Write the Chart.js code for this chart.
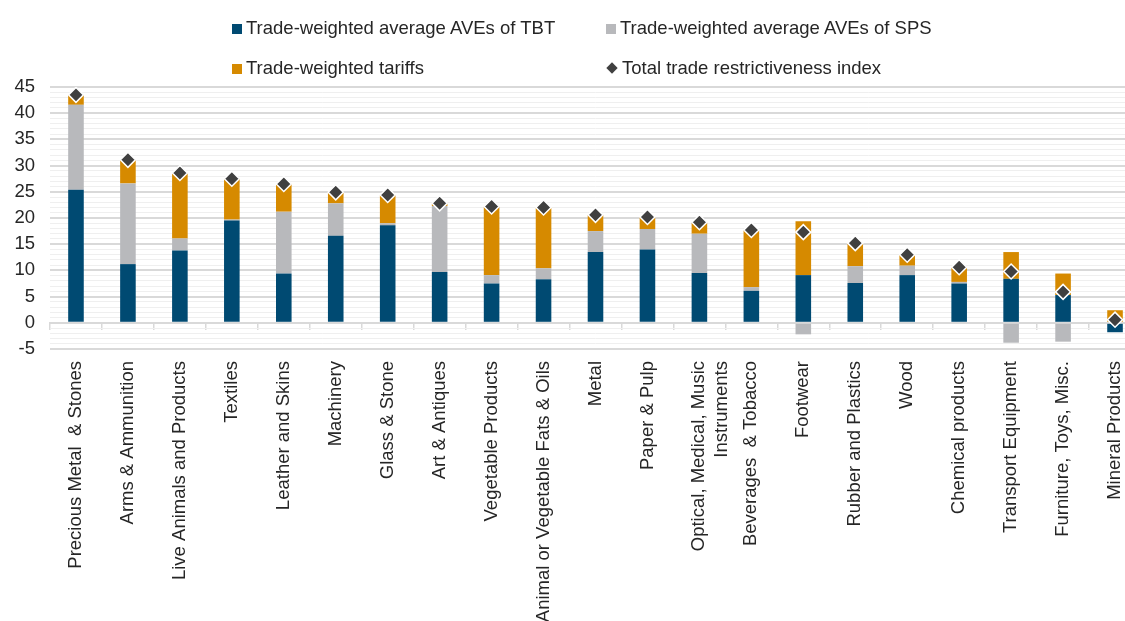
<!DOCTYPE html>
<html>
<head>
<meta charset="utf-8">
<script src="https://cdn.jsdelivr.net/npm/chart.js@4"></script>
<style>
    html, body { margin: 0; padding: 0; background: #fff; overflow: hidden; width: 1125px; height: 621px; }
    #wrap { position: absolute; left: 0; top: 0; width: 1150px; height: 621px; }
    #legend { position: absolute; left: 0; top: 0; width: 1125px; height: 85px; font-family: "Liberation Sans", Arial, sans-serif; font-size: 18.5px; color: #262626; }
    .item { position: absolute; height: 22px; line-height: 22px; white-space: nowrap; }
    .box { display: inline-block; width: 10px; height: 10px; margin-right: 4px; vertical-align: 0px; }
    .dia { display: inline-block; width: 8px; height: 8px; margin: 0 6px 0 3px; background: #404040; transform: rotate(45deg); vertical-align: 2px; }
</style>
</head>
<body>
<div id="wrap"><canvas id="tradeChart"></canvas></div>
<div id="legend">
    <div class="item" style="left:232px; top:17px;"><span class="box" style="background:#004a72"></span>Trade-weighted average AVEs of TBT</div>
    <div class="item" style="left:606px; top:17px;"><span class="box" style="background:#b8b9bc"></span>Trade-weighted average AVEs of SPS</div>
    <div class="item" style="left:232px; top:57px;"><span class="box" style="background:#d68a00"></span>Trade-weighted tariffs</div>
    <div class="item" style="left:605px; top:57px;"><span class="dia"></span>Total trade restrictiveness index</div>
</div>
<script>
// categorias (sectores)
const sectors = [
    'Precious Metal  & Stones', 'Arms & Ammunition', 'Live Animals and Products', 'Textiles',
    'Leather and Skins', 'Machinery', 'Glass & Stone', 'Art & Antiques', 'Vegetable Products',
    'Animal or Vegetable Fats & Oils', 'Metal', 'Paper & Pulp', ['Optical, Medical, Music', 'Instruments'],
    'Beverages  & Tobacco', 'Footwear', 'Rubber and Plastics', 'Wood', 'Chemical products',
    'Transport Equipment', 'Furniture, Toys, Misc.', 'Mineral Products'
];
const tbtValues = [25.4, 11.2, 13.8, 19.5, 9.4, 16.6, 18.6, 9.7, 7.5, 8.3, 13.5, 14.0, 9.5, 6.1, 9.1, 7.6, 9.1, 7.5, 8.4, 5.3, -1.8];
const spsValues = [16.2, 15.4, 2.3, 0.2, 11.8, 6.2, 0.4, 12.6, 1.6, 2.1, 4.0, 3.9, 7.5, 0.7, -2.2, 3.2, 1.8, 0.3, -3.8, -3.6, 0];
const tariffValues = [1.9, 4.5, 12.5, 7.8, 5.3, 2.1, 5.4, 0.5, 13.1, 11.6, 3.1, 2.3, 2.2, 10.9, 10.3, 4.4, 2.1, 2.8, 5.1, 4.1, 2.4];
const totalIndex = [43.5, 31.1, 28.6, 27.5, 26.5, 24.9, 24.4, 22.8, 22.2, 22.0, 20.6, 20.2, 19.2, 17.7, 17.3, 15.2, 13.0, 10.6, 9.8, 5.9, 0.6];

document.addEventListener('DOMContentLoaded', function () {
    const font = { family: '"Liberation Sans", Arial, sans-serif', size: 18.5 };

    const tradeData = {
        labels: sectors,
        datasets: [{
            type: 'line',
            label: 'Total trade restrictiveness index',
            data: totalIndex,
            showLine: false,
            pointStyle: 'rectRot',
            pointRadius: 7.5,
            pointHoverRadius: 7.5,
            pointBackgroundColor: '#404040',
            pointBorderColor: '#ffffff',
            pointBorderWidth: 1.5,
            stack: 'total',
            order: 0
        }, {
            label: 'Trade-weighted average AVEs of TBT',
            data: tbtValues,
            backgroundColor: '#004a72',
            order: 1
        }, {
            label: 'Trade-weighted average AVEs of SPS',
            data: spsValues,
            backgroundColor: '#b8b9bc',
            order: 1
        }, {
            label: 'Trade-weighted tariffs',
            data: tariffValues,
            backgroundColor: '#d68a00',
            order: 1
        }]
    };

    // barras apiladas + indice total
    const tradeConfig = {
        type: 'bar',
        data: tradeData,
        options: {
            responsive: true,
            maintainAspectRatio: false,
            animation: false,
            categoryPercentage: 0.3,
            barPercentage: 1,
            layout: { padding: { top: 87, left: 0, right: 0, bottom: 0 } },
            plugins: {
                legend: { display: false },
                tooltip: { enabled: false }
            },
            scales: {
                x: {
                    stacked: true,
                    offset: true,
                    grid: { display: false, offset: true, drawTicks: false },
                    border: { display: false },
                    ticks: {
                        autoSkip: false,
                        minRotation: 90,
                        maxRotation: 90,
                        padding: 12,
                        color: '#262626',
                        font: font
                    },
                    afterFit: function (scale) { scale.height = 272; }
                },
                // eje en cero con marcas entre categorias
                x2: {
                    type: 'category',
                    position: { y: 0 },
                    offset: true,
                    grid: { offset: true, drawOnChartArea: false, tickLength: 6, color: '#d9d9d9', lineWidth: 1.5 },
                    border: { display: true, color: '#d9d9d9', width: 2 },
                    ticks: { display: false }
                },
                y: {
                    stacked: true,
                    min: -5,
                    max: 45,
                    border: { display: false },
                    grid: {
                        drawTicks: false,
                        color: (ctx) => ctx.tick.value % 5 === 0 ? '#d9d9d9' : '#efefef',
                        lineWidth: (ctx) => ctx.tick.value % 5 === 0 ? 2 : 1
                    },
                    ticks: {
                        stepSize: 1,
                        autoSkip: false,
                        padding: 15,
                        color: '#262626',
                        font: font,
                        callback: (v) => v % 5 === 0 ? v : ''
                    },
                    afterFit: function (scale) { scale.width = 50; }
                }
            }
        }
    };

    const tradeChart = new Chart(document.getElementById('tradeChart'), tradeConfig);
});
</script>
</body>
</html>
